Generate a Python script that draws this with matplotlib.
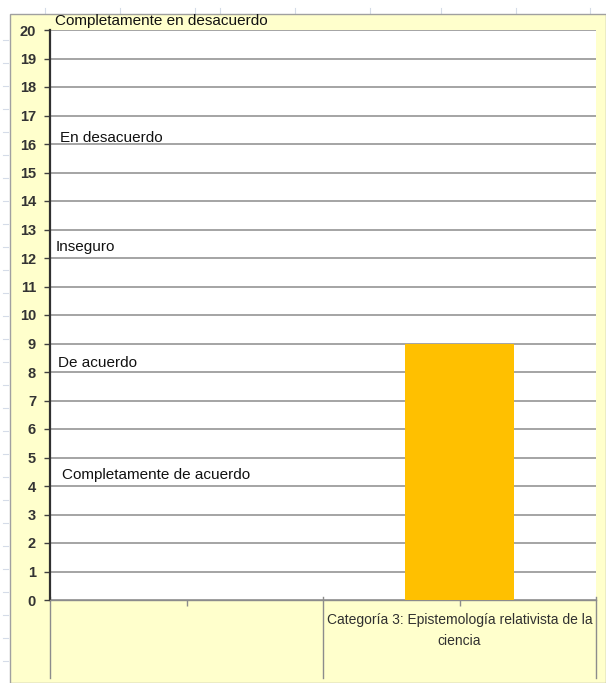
import matplotlib
matplotlib.use('Agg')
import matplotlib.pyplot as plt
from matplotlib.patches import Rectangle
from matplotlib.lines import Line2D
import numpy as np

# data
categories = ['', 'Categoría 3: Epistemología relativista de la\nciencia']
values = [np.nan, 9]
y_ticks = list(range(0, 21))
scale_labels = ['Completamente en desacuerdo', 'En desacuerdo', 'Inseguro',
                'De acuerdo', 'Completamente de acuerdo']
scale_levels = [20.3, 16.2, 12.4, 8.3, 4.4]

plt.rcParams['font.family'] = ['Liberation Sans', 'DejaVu Sans']

W, H = 606, 683
fig = plt.figure(figsize=(W / 100, H / 100), dpi=100)
fig.patch.set_facecolor('white')

# chart area (pale yellow) with grey border on left/top
fig.patches.append(Rectangle((10 / W, 0), 1 - 10 / W, 1 - 14 / H, transform=fig.transFigure,
                             facecolor='#FFFFCC', edgecolor='#A0A0A0', linewidth=1.0, zorder=-2))
# faint spreadsheet grid marks outside the chart
for yy in np.arange(40, H, 23):
    fig.lines.append(Line2D([3 / W, 8 / W], [1 - yy / H, 1 - yy / H], transform=fig.transFigure,
                            color='#D5DCE8', linewidth=0.8, zorder=-2))
for xx in [45, 120, 195, 220, 295, 370, 441, 516, 590]:
    fig.lines.append(Line2D([xx / W, xx / W], [1 - 8 / H, 1 - 14 / H], transform=fig.transFigure,
                            color='#D5DCE8', linewidth=0.8, zorder=-2))

left, right, top, bottom = 50, 596, 30, 600
ax = fig.add_axes([left / W, 1 - bottom / H, (right - left) / W, (bottom - top) / H])
ax.set_facecolor('white')

x = np.arange(len(categories)) + 0.5
ax.bar(x, values, width=0.4, color='#FFC000', zorder=3)

ax.set_xlim(0, len(categories))
ax.set_ylim(0, 20)
ax.set_yticks(y_ticks)
ax.set_yticklabels([str(t) for t in y_ticks], fontsize=10.5, fontweight='bold', color='#333333')
ax.tick_params(axis='y', length=4, width=1, color='#404040', pad=6)
ax.yaxis.grid(True, color='#8C8C8C', linewidth=1.1, zorder=1)
ax.set_axisbelow(True)

ax.set_xticks(x)
ax.set_xticklabels([])
ax.tick_params(axis='x', length=4, width=1, color='#8C8C8C', direction='out')

for side in ['top', 'right']:
    ax.spines[side].set_visible(False)
ax.spines['left'].set_color('#303030')
ax.spines['left'].set_linewidth(1.6)
ax.spines['bottom'].set_color('#8C8C8C')
ax.spines['bottom'].set_linewidth(1.0)

# category group separators extending below the axis
trans = ax.get_xaxis_transform()
for b in range(len(categories) + 1):
    ax.add_line(Line2D([b, b], [0.005, -78 / (bottom - top)], transform=trans,
                       color='#8C8C8C', linewidth=1.0, clip_on=False))

for xi, lab in zip(x, categories):
    ax.text(xi, -13 / (bottom - top), lab, transform=trans, ha='center', va='top',
            fontsize=10, color='#303030', linespacing=1.65)

# Likert scale labels
offsets = [0.01, 0.018, 0.01, 0.015, 0.022]
for lab, lv, dx in zip(scale_labels, scale_levels, offsets):
    ax.text(dx, lv, lab, transform=ax.get_yaxis_transform(), ha='left', va='center',
            fontsize=11, color='#111111', clip_on=False)

fig.savefig('out.png', dpi=100, facecolor=fig.get_facecolor())
